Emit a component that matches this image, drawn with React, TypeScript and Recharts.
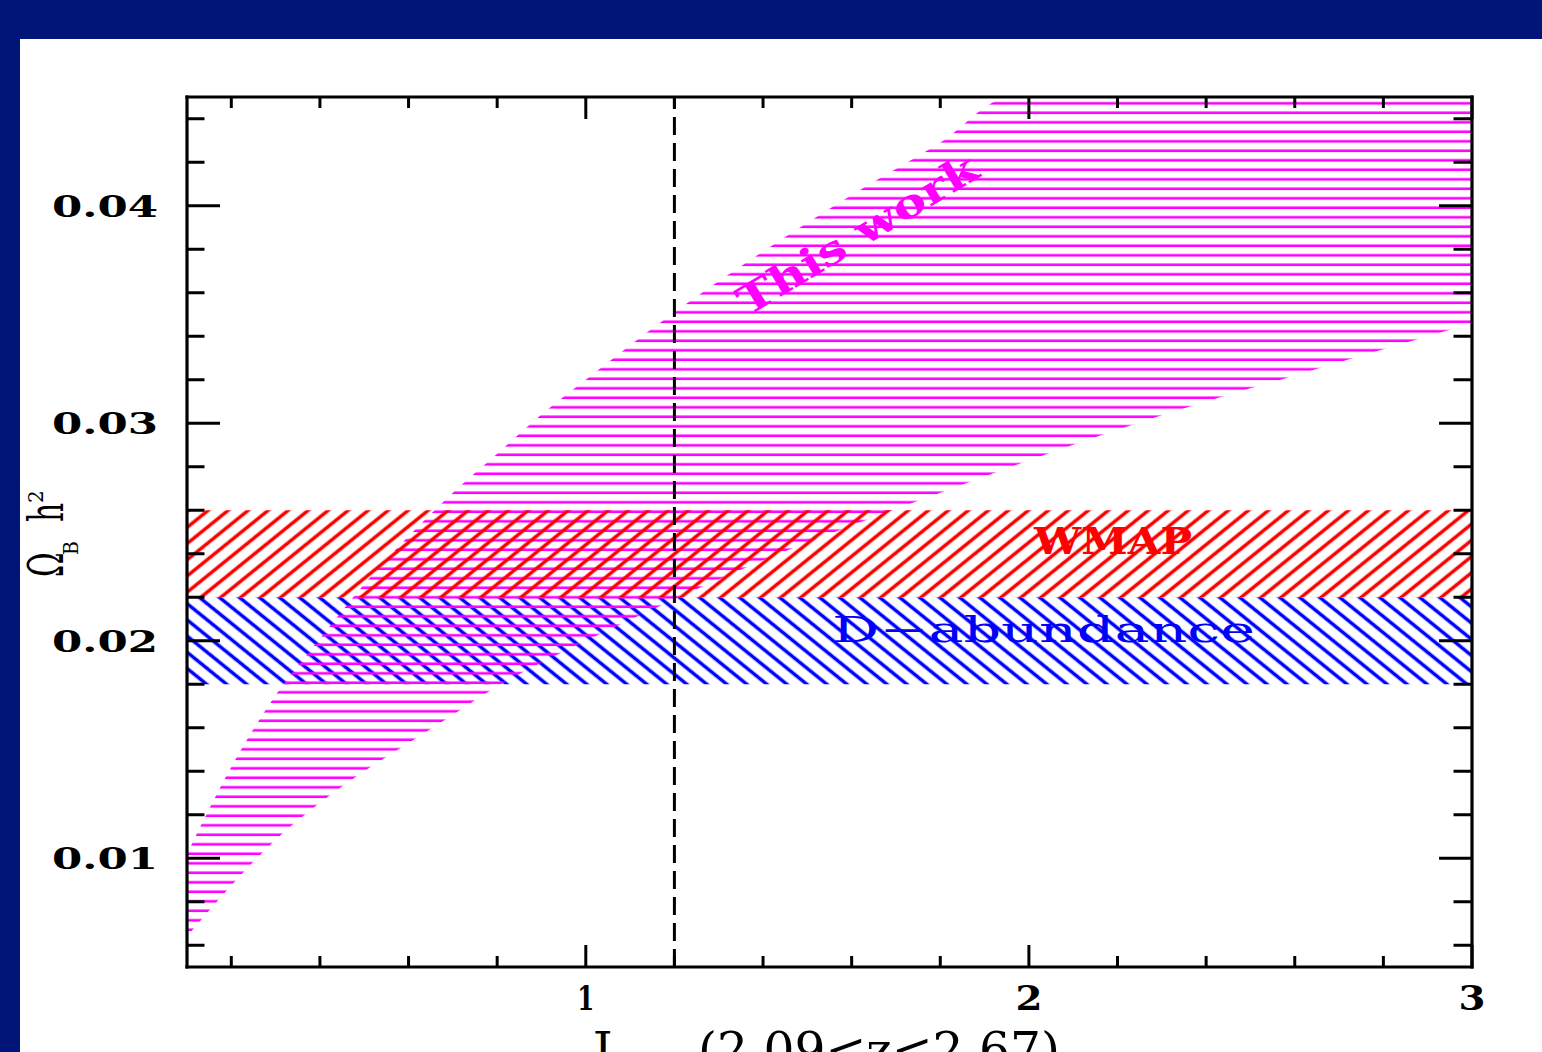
import React from 'react';
import { ComposedChart, Area, XAxis, YAxis, ReferenceLine, ReferenceDot } from 'recharts';

// ---------------- data ----------------
const jValues = [0.1, 0.2, 0.3, 0.4, 0.5, 0.6, 0.7, 0.8, 0.9, 1.0, 1.2, 1.4, 1.6, 1.8, 1.96, 2.2, 2.4, 2.6, 2.8, 3.0];
const thisWorkLower = [0.0064, 0.00875, 0.01085, 0.01255, 0.014, 0.0153, 0.0166, 0.0179, 0.019, 0.02, 0.0219, 0.0237, 0.0253, 0.0268, 0.028, 0.0297, 0.031, 0.0322, 0.0334, 0.0346];
const thisWorkUpper = [0.0102, 0.0142, 0.0175, 0.0201, 0.0226, 0.0248, 0.0268, 0.0286, 0.0304, 0.032, 0.0351, 0.0379, 0.0405, 0.0429, 0.045, 0.045, 0.045, 0.045, 0.045, 0.045];
const wmapRange = [0.022, 0.026];
const dAbundanceRange = [0.018, 0.022];
const zCutJ = 1.2;

const xDomain = [0.1, 3];
const yDomain = [0.005, 0.045];
const xTicks = [0.2, 0.4, 0.6, 0.8, 1, 1.2, 1.4, 1.6, 1.8, 2, 2.2, 2.4, 2.6, 2.8, 3];
const yTicks = [0.006, 0.008, 0.01, 0.012, 0.014, 0.016, 0.018, 0.02, 0.022, 0.024, 0.026, 0.028, 0.03, 0.032, 0.034, 0.036, 0.038, 0.04, 0.042, 0.044];
const xMajorTicks = [1, 2, 3];
const xTickLabels = ['1', '2', '3'];
const yMajorTicks = [0.01, 0.02, 0.03, 0.04];
const yTickLabels = ['0.01', '0.02', '0.03', '0.04'];

const labelThisWork = { x: 1.612, y: 0.0387, text: 'This work' };
const labelWMAP = { x: 2.19, y: 0.024, text: 'WMAP' };
const labelDAbund = { x: 2.033, y: 0.01995, text: 'D\u2212abundance' };

const rows = jValues.map((x, i) => ({ x, lo: thisWorkLower[i], hi: thisWorkUpper[i] }));

// ---------------- style ----------------
const NAVY = '#011477';
const MAGENTA = '#ff00ff';
const RED = '#ff0000';
const BLUE = '#0000ff';
const FONT = "'DejaVu Serif', serif";
const AXIS = { stroke: '#000', strokeWidth: 3.2, strokeLinecap: 'square' as const };

const majorIndex = (v: number, list: number[]) => list.findIndex((m) => Math.abs(m - v) < 1e-9);

const BottomTick = (props: any) => {
  const { x, y, payload } = props;
  const mi = majorIndex(payload.value, xMajorTicks);
  const major = mi >= 0;
  return (
    <g>
      <line x1={x} x2={x} y1={y} y2={y - (major ? 22 : 11)} stroke="#000" strokeWidth={3} />
      {major && (
        <text x={x} y={y + 43} textAnchor="middle" fontFamily={FONT} fontWeight="bold" fontSize={34} fill="#000"
          textLength={xTickLabels[mi] === '1' ? 17 : 27} lengthAdjust="spacingAndGlyphs">
          {xTickLabels[mi]}
        </text>
      )}
    </g>
  );
};

const TopTick = (props: any) => {
  const { x, y, payload } = props;
  const major = majorIndex(payload.value, xMajorTicks) >= 0;
  return <line x1={x} x2={x} y1={y} y2={y + (major ? 22 : 11)} stroke="#000" strokeWidth={3} />;
};

const LeftTick = (props: any) => {
  const { x, y, payload } = props;
  const mi = majorIndex(payload.value, yMajorTicks);
  const major = mi >= 0;
  return (
    <g>
      <line x1={x} x2={x + (major ? 33 : 17.5)} y1={y} y2={y} stroke="#000" strokeWidth={3} />
      {major && (
        <text x={x - 29} y={y + 11} textAnchor="end" fontFamily={FONT} fontWeight="bold" fontSize={30} fill="#000"
          textLength={106} lengthAdjust="spacingAndGlyphs">
          {yTickLabels[mi]}
        </text>
      )}
    </g>
  );
};

const RightTick = (props: any) => {
  const { x, y, payload } = props;
  const major = majorIndex(payload.value, yMajorTicks) >= 0;
  return <line x1={x} x2={x - (major ? 33 : 18.5)} y1={y} y2={y} stroke="#000" strokeWidth={3} />;
};

const Glyph = ({ x, y, sx, size, children }: any) => (
  <text transform={`translate(${x},${y}) scale(${sx},1)`} x={0} y={0} fontFamily={FONT} fontSize={size} fill="#000">
    {children}
  </text>
);

const YLabel = (props: any) => {
  const vb = props.viewBox || { x: 0, y: 58, width: 167, height: 870 };
  const ax = vb.x + vb.width - 124;
  const ay = vb.y + 480;
  return (
    <g transform={`translate(${ax},${ay}) rotate(-90)`}>
      <Glyph x={0} y={0} sx={0.62} size={48}>Ω</Glyph>
      <Glyph x={22} y={15} sx={0.9} size={21}>B</Glyph>
      <Glyph x={55} y={0} sx={0.62} size={48}>h</Glyph>
      <Glyph x={74} y={-20} sx={0.95} size={21}>2</Glyph>
    </g>
  );
};

const XLabel = (props: any) => {
  const vb = props.viewBox || { x: 167, y: 928, width: 1285, height: 85 };
  const base = vb.y + 100;
  return (
    <g>
      <text x={vb.x + 406} y={base} fontFamily={FONT} fontSize={48} fill="#000">J</text>
      <text x={vb.x + 446} y={base + 14} fontFamily={FONT} fontSize={28} fill="#000">ν</text>
      <text x={vb.x + 511} y={base} fontFamily={FONT} fontSize={48} fill="#000" textLength={362} lengthAdjust="spacingAndGlyphs">
        (2.09&lt;z&lt;2.67)
      </text>
    </g>
  );
};

const ThisWorkText = (props: any) => {
  const { x, y } = props.viewBox;
  return (
    <text x={x} y={y} transform={`rotate(-31,${x},${y})`} textAnchor="middle" dominantBaseline="central"
      fontFamily={FONT} fontWeight="bold" fontSize={40} fill={MAGENTA} textLength={273} lengthAdjust="spacingAndGlyphs">
      {labelThisWork.text}
    </text>
  );
};

const WmapText = (props: any) => {
  const { x, y } = props.viewBox;
  return (
    <text x={x} y={y} textAnchor="middle" fontFamily={FONT} fontWeight="bold" fontSize={38} fill={RED}
      textLength={158} lengthAdjust="spacingAndGlyphs">
      {labelWMAP.text}
    </text>
  );
};

const DText = (props: any) => {
  const { x, y } = props.viewBox;
  return (
    <text x={x} y={y} textAnchor="middle" fontFamily={FONT} fontSize={36} fill={BLUE}
      textLength={423} lengthAdjust="spacingAndGlyphs">
      {labelDAbund.text}
    </text>
  );
};

export default function App() {
  return (
    <div style={{ position: 'absolute', left: 0, top: 0, width: 1542, height: 1052, background: NAVY, overflow: 'hidden' }}>
      <svg width={0} height={0} style={{ position: 'absolute' }}>
        <defs>
          <pattern id="hatchMagenta" patternUnits="userSpaceOnUse" width={20} height={9.5}>
            <line x1={-1} x2={21} y1={7.3} y2={7.3} stroke={MAGENTA} strokeWidth={2.6} />
          </pattern>
          <pattern id="hatchRed" patternUnits="userSpaceOnUse" width={20} height={12.59} patternTransform="rotate(-39)">
            <line x1={-2} x2={22} y1={6.3} y2={6.3} stroke={RED} strokeWidth={3.5} />
          </pattern>
          <pattern id="hatchBlue" patternUnits="userSpaceOnUse" width={20} height={12.59} patternTransform="rotate(39)">
            <line x1={-2} x2={22} y1={6.3} y2={6.3} stroke={BLUE} strokeWidth={3.5} />
          </pattern>
        </defs>
      </svg>
      <div style={{ position: 'absolute', left: 20, top: 39, width: 1522, height: 1013, background: '#fff' }}>
        <ComposedChart width={1522} height={1013} data={rows} margin={{ top: 57, right: 69, bottom: 0, left: 0 }}>
          <XAxis xAxisId="b" dataKey="x" type="number" domain={xDomain} allowDataOverflow ticks={xTicks} interval={0}
            orientation="bottom" height={85} tickSize={0} tickMargin={0} tickLine={false} axisLine={AXIS}
            tick={BottomTick} label={{ content: XLabel }} />
          <XAxis xAxisId="t" dataKey="x" type="number" domain={xDomain} allowDataOverflow ticks={xTicks} interval={0}
            orientation="top" height={1} tickSize={0} tickMargin={0} tickLine={false} axisLine={AXIS} tick={TopTick} />
          <YAxis yAxisId="l" type="number" domain={yDomain} allowDataOverflow ticks={yTicks} interval={0}
            orientation="left" width={167} tickSize={0} tickMargin={0} tickLine={false} axisLine={AXIS}
            tick={LeftTick} label={{ content: YLabel }} />
          <YAxis yAxisId="r" type="number" domain={yDomain} allowDataOverflow ticks={yTicks} interval={0}
            orientation="right" width={1} tickSize={0} tickMargin={0} tickLine={false} axisLine={AXIS} tick={RightTick} />

          <Area xAxisId="b" yAxisId="l" dataKey={() => dAbundanceRange} type="linear" stroke="none"
            fill="url(#hatchBlue)" fillOpacity={1} isAnimationActive={false} dot={false} activeDot={false} />
          <Area xAxisId="b" yAxisId="l" dataKey={(d: any) => [d.lo, d.hi]} type="monotone" stroke="none"
            fill="url(#hatchMagenta)" fillOpacity={1} isAnimationActive={false} dot={false} activeDot={false} />
          <Area xAxisId="b" yAxisId="l" dataKey={() => wmapRange} type="linear" stroke="none"
            fill="url(#hatchRed)" fillOpacity={1} isAnimationActive={false} dot={false} activeDot={false} />

          <ReferenceLine xAxisId="b" yAxisId="l" x={zCutJ} stroke="#000" strokeWidth={3} strokeDasharray="18 8" />

          <ReferenceDot xAxisId="b" yAxisId="l" x={labelThisWork.x} y={labelThisWork.y} r={0} fill="none" stroke="none"
            label={{ content: ThisWorkText }} />
          <ReferenceDot xAxisId="b" yAxisId="l" x={labelWMAP.x} y={labelWMAP.y} r={0} fill="none" stroke="none"
            label={{ content: WmapText }} />
          <ReferenceDot xAxisId="b" yAxisId="l" x={labelDAbund.x} y={labelDAbund.y} r={0} fill="none" stroke="none"
            label={{ content: DText }} />
        </ComposedChart>
      </div>
    </div>
  );
}
